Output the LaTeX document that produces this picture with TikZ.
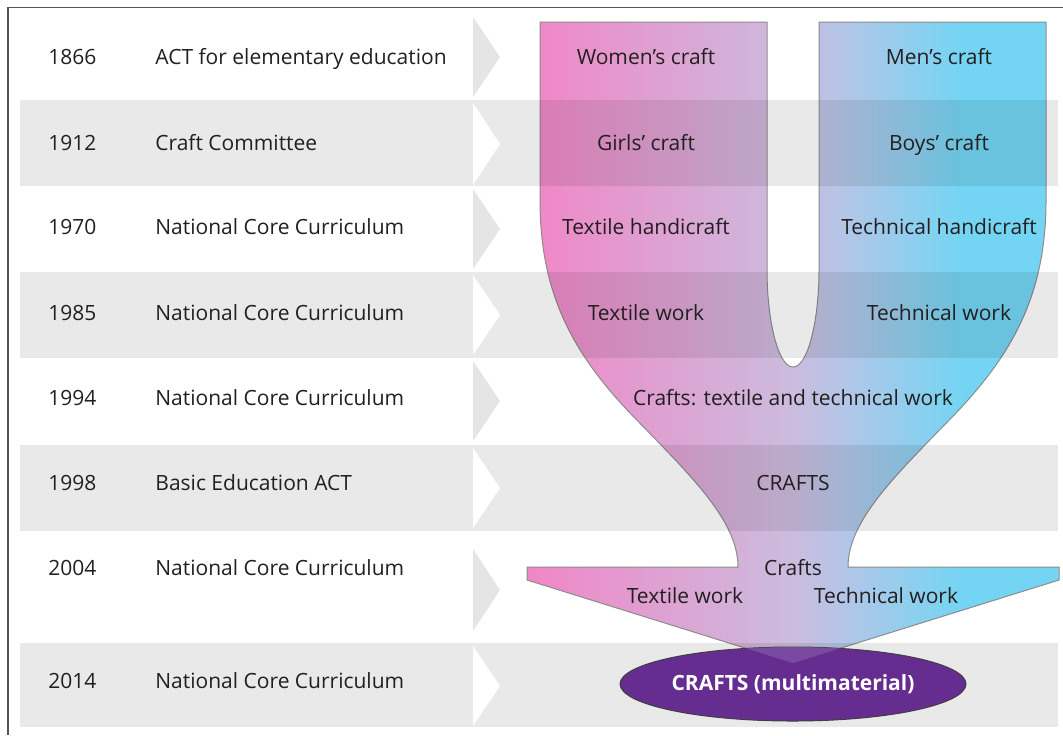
\documentclass[tikz,border=0pt]{standalone}
\usepackage{fontspec}
\setmainfont{Open Sans}
\usetikzlibrary{shapes.geometric}
\definecolor{textc}{HTML}{231F20}
\definecolor{framec}{HTML}{555555}
\definecolor{pinkc}{RGB}{241,134,198}
\definecolor{lavc}{RGB}{204,188,222}
\definecolor{bluec}{RGB}{178,198,232}
\definecolor{cyanc}{RGB}{115,213,243}
\definecolor{purplec}{RGB}{102,45,145}
\pgfdeclarehorizontalshading{craftshade}{100bp}{color(0bp)=(pinkc); color(25bp)=(pinkc); color(50bp)=(lavc); color(55bp)=(bluec); color(66bp)=(cyanc); color(100bp)=(cyanc)}

\begin{document}
\begin{tikzpicture}[x=0.5pt, y=-0.5pt,
	lbl/.style={text=textc, inner sep=0pt, anchor=base, font=\fontsize{10.5}{12}\selectfont},
	yearlbl/.style={lbl, anchor=base west},
	band/.style={fill=black, fill opacity=0.085},
	chevgray/.style={fill=gray!20},
	chevwhite/.style={fill=white}]
	\useasboundingbox (0,0) rectangle (1063,735);
	\shadedraw[shading=craftshade, draw=black!45, line width=0.5pt]
		(540,22) -- (540,200) .. controls (540,290) and (570,350) .. (630,413)
		.. controls (690,475) and (738,520) .. (738,567)
		-- (527,567) -- (527,580) -- (793,663) -- (1059,580) -- (1059,567) -- (848,567)
		.. controls (848,520) and (896,475) .. (956,413)
		.. controls (1016,350) and (1046,290) .. (1046,200) -- (1046,22) -- (819,22) -- (819,270)
		.. controls (819,320) and (808,367) .. (793,367)
		.. controls (778,367) and (767,320) .. (767,270) -- (767,22) -- cycle;
	\fill[band] (20,100) rectangle (1058,186);
	\fill[band] (20,272) rectangle (1058,358);
	\fill[band] (20,445) rectangle (1058,531);
	\fill[band] (20,643) rectangle (1058,727);
	\fill[chevgray]  (473,17)  -- (500,57)  -- (473,97)  -- cycle;
	\fill[chevwhite] (473,103) -- (500,144) -- (473,185) -- cycle;
	\fill[chevgray]  (473,189) -- (500,229) -- (473,269) -- cycle;
	\fill[chevwhite] (473,275) -- (500,315) -- (473,355) -- cycle;
	\fill[chevgray]  (473,361) -- (500,401) -- (473,441) -- cycle;
	\fill[chevwhite] (473,448) -- (500,488) -- (473,528) -- cycle;
	\fill[chevgray]  (473,549) -- (500,590) -- (473,631) -- cycle;
	\fill[chevwhite] (473,646) -- (500,686) -- (473,726) -- cycle;
	\node[ellipse, minimum width=173pt, minimum height=37pt, inner sep=0pt, fill=purplec, draw=black!75, line width=0.5pt] at (793,684)(multi){};
	\begin{scope}
		\clip (multi.center) ellipse [x radius=86.5pt, y radius=18.5pt];
		\fill[lavc, fill opacity=0.2] (527,567) -- (527,580) -- (793,663) -- (1059,580) -- (1059,567) -- cycle;
	\end{scope}
	\draw[framec, line width=0.75pt] (1063,7.5) -- (8,7.5) -- (8,735);
	\node[yearlbl] at (48,64)(year1){1866};
	\node[yearlbl] at (48,150)(year2){1912};
	\node[yearlbl] at (48,234)(year3){1970};
	\node[yearlbl] at (48,320)(year4){1985};
	\node[yearlbl] at (48,405)(year5){1994};
	\node[yearlbl] at (48,490)(year6){1998};
	\node[yearlbl] at (48,575)(year7){2004};
	\node[yearlbl] at (48,688)(year8){2014};
	\node[yearlbl] at (155,64)(act1){ACT for elementary education};
	\node[yearlbl] at (155,150)(act2){Craft Committee};
	\node[yearlbl] at (155,234)(act3){National Core Curriculum};
	\node[yearlbl] at (155,320)(act4){National Core Curriculum};
	\node[yearlbl] at (155,405)(act5){National Core Curriculum};
	\node[yearlbl] at (155,490)(act6){Basic Education ACT};
	\node[yearlbl] at (155,575)(act7){National Core Curriculum};
	\node[yearlbl] at (155,688)(act8){National Core Curriculum};
	\node[lbl] at (646,64)(women){Women’s craft};
	\node[lbl] at (939,64)(men){Men’s craft};
	\node[lbl] at (646,150)(girls){Girls’ craft};
	\node[lbl] at (939,150)(boys){Boys’ craft};
	\node[lbl] at (646,234)(texhandi){Textile handicraft};
	\node[lbl] at (939,234)(techhandi){Technical handicraft};
	\node[lbl] at (646,320)(texwork){Textile work};
	\node[lbl] at (939,320)(techwork){Technical work};
	\node[lbl] at (793,405)(crafts94){Crafts: textile and technical work};
	\node[lbl] at (793,490)(crafts98){CRAFTS};
	\node[lbl] at (793,575)(crafts04){Crafts};
	\node[lbl] at (685,603)(texwork04){Textile work};
	\node[lbl] at (886,603)(techwork04){Technical work};
	\node[lbl, text=white, font=\fontsize{10.5}{12}\selectfont\bfseries] at (793,690)(multilbl){CRAFTS (multimaterial)};
\end{tikzpicture}
\end{document}
